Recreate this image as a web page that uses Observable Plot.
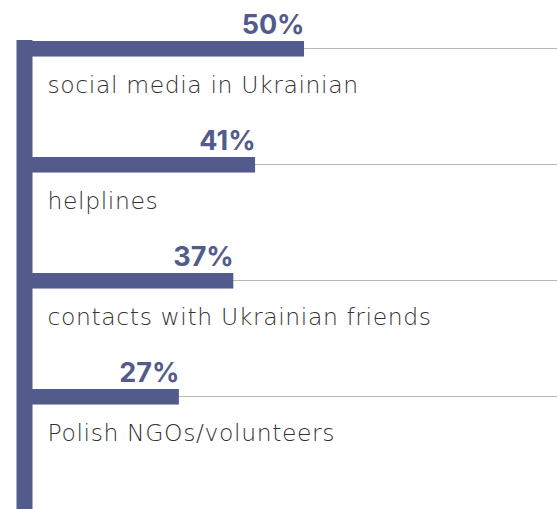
<!DOCTYPE html>
<html>
<head>
<meta charset="utf-8">
<script src="https://cdn.jsdelivr.net/npm/d3@7"></script>
<script src="https://cdn.jsdelivr.net/npm/@observablehq/plot@0.6"></script>
<style>
  html, body { margin: 0; padding: 0; background: #fff; }
  #chart svg { display: block; }
</style>
</head>
<body>
<div id="chart"></div>
<script>
const categories = ["social media in Ukrainian", "helplines", "contacts with Ukrainian friends", "Polish NGOs/volunteers"];
const values = [50, 41, 37, 27];
const valueLabels = ["50%", "41%", "37%", "27%"];

const data = categories.map((c, i) => ({category: c, value: values[i], label: valueLabels[i]}));
const xMax = 96.5;
const step = (505 - 40) / categories.length;
const barColor = "#535b8c";

const chart = Plot.plot({
  width: 557,
  height: 509,
  marginTop: 40,
  marginBottom: 0,
  marginLeft: 32,
  marginRight: 0,
  x: {domain: [0, xMax], axis: null},
  y: {domain: categories, range: [40, 505], padding: 0, axis: null},
  style: {fontFamily: "Inter, 'Open Sans', sans-serif", background: "#fff"},
  marks: [
    Plot.barX(data, {x1: 0, x2: xMax, y: "category", fill: "#b8b8b8", insetTop: 7, insetBottom: step - 8.3}),
    Plot.barX(data, {x1: 0, x2: "value", y: "category", fill: barColor, insetTop: 0, insetBottom: step - 15.8}),
    Plot.ruleX([0], {stroke: barColor, strokeWidth: 16, dx: -8}),
    Plot.text(data, {x: "value", y: "category", text: "label", textAnchor: "end", lineAnchor: "bottom", dy: -step / 2 - 7, fontSize: 27, fontWeight: 700, fill: barColor}),
    Plot.text(data, {x: 0, y: "category", text: "category", textAnchor: "start", lineAnchor: "bottom", dx: 15, dy: -6.5, fontSize: 23.5, fontWeight: 200, fontFamily: "'DejaVu Sans', sans-serif", fill: "#333333"})
  ]
});
const textGroups = chart.querySelectorAll("g[aria-label='text']");
const catGroup = textGroups[textGroups.length - 1];
catGroup.setAttribute("letter-spacing", "0.6");
document.getElementById("chart").appendChild(chart);
</script>
</body>
</html>
